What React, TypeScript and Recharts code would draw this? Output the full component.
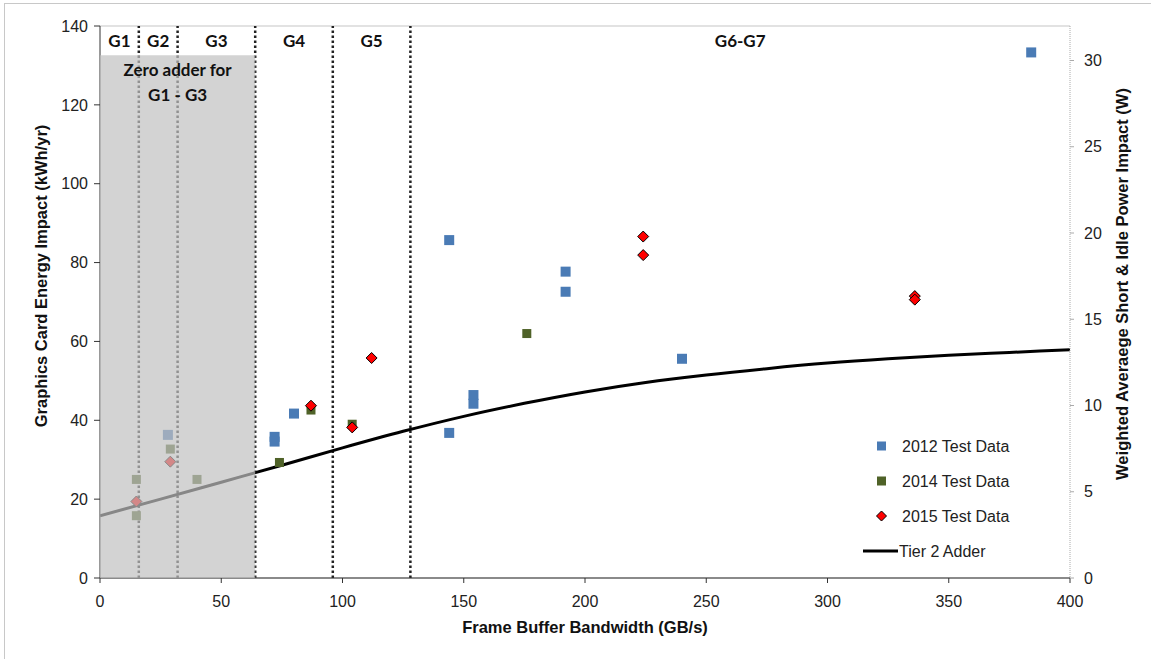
import {
  ComposedChart,
  Scatter,
  Line,
  XAxis,
  YAxis,
  CartesianGrid,
  ReferenceArea,
  ReferenceLine,
  Legend,
} from 'recharts';

// bandwidth (GB/s) / energy (kWh/yr)
const data2012 = [
  { x: 28, y: 36.3 },
  { x: 72, y: 35.8 },
  { x: 72, y: 34.6 },
  { x: 80, y: 41.7 },
  { x: 144, y: 85.7 },
  { x: 144, y: 36.8 },
  { x: 154, y: 46.4 },
  { x: 154, y: 44.2 },
  { x: 192, y: 77.7 },
  { x: 192, y: 72.6 },
  { x: 240, y: 55.6 },
  { x: 384, y: 133.3 },
];

const data2014 = [
  { x: 15, y: 25.0 },
  { x: 15, y: 15.8 },
  { x: 29, y: 32.7 },
  { x: 40, y: 25.0 },
  { x: 74, y: 29.3 },
  { x: 87, y: 42.6 },
  { x: 104, y: 39.0 },
  { x: 176, y: 62.0 },
];

const data2015 = [
  { x: 15, y: 19.4 },
  { x: 29, y: 29.5 },
  { x: 87, y: 43.7 },
  { x: 104, y: 38.2 },
  { x: 112, y: 55.8 },
  { x: 224, y: 86.6 },
  { x: 224, y: 81.9 },
  { x: 336, y: 71.5 },
  { x: 336, y: 70.6 },
];

const tier2Adder = [
  { x: 0, y: 15.8 },
  { x: 25, y: 20.0 },
  { x: 50, y: 24.3 },
  { x: 75, y: 28.6 },
  { x: 100, y: 33.0 },
  { x: 125, y: 37.2 },
  { x: 150, y: 41.0 },
  { x: 175, y: 44.3 },
  { x: 200, y: 47.2 },
  { x: 225, y: 49.6 },
  { x: 250, y: 51.5 },
  { x: 275, y: 53.1 },
  { x: 300, y: 54.5 },
  { x: 325, y: 55.6 },
  { x: 350, y: 56.5 },
  { x: 375, y: 57.2 },
  { x: 400, y: 57.9 },
];

const groups = [
  { name: 'G1', from: 0, to: 16 },
  { name: 'G2', from: 16, to: 32 },
  { name: 'G3', from: 32, to: 64 },
  { name: 'G4', from: 64, to: 96 },
  { name: 'G5', from: 96, to: 128 },
  { name: 'G6-G7', from: 128, to: 400 },
];
const groupBounds = [16, 32, 64, 96, 128];

const xTicks = [0, 50, 100, 150, 200, 250, 300, 350, 400];
const yTicks = [0, 20, 40, 60, 80, 100, 120, 140];
const wTicks = [0, 5, 10, 15, 20, 25, 30];

const BLUE = '#4a7bb5';
const GREEN = '#4f6228';
const RED = '#ff0000';
const ZONE_TOP = 132.6;

const ARIAL = '"Liberation Sans", Arial, sans-serif';
const CALIBRI = 'Lato, "Open Sans", sans-serif';

const square = (color: string, s: number) => (p: any) => (
  <rect x={p.cx - s / 2} y={p.cy - s / 2} width={s} height={s} fill={color} />
);

const diamond = (p: any) => {
  const r = 5.5;
  return (
    <polygon
      points={`${p.cx},${p.cy - r} ${p.cx + r},${p.cy} ${p.cx},${p.cy + r} ${p.cx - r},${p.cy}`}
      fill={RED}
      stroke="#000"
      strokeWidth={1}
    />
  );
};

const LegendBox = () => {
  const rows = [
    { label: '2012 Test Data', kind: 'blue' },
    { label: '2014 Test Data', kind: 'green' },
    { label: '2015 Test Data', kind: 'red' },
    { label: 'Tier 2 Adder', kind: 'line' },
  ];
  return (
    <svg width={220} height={140}>
      {rows.map((r, i) => {
        const cy = 14 + i * 35;
        let mark;
        if (r.kind === 'blue') mark = <rect x={19} y={cy - 4.5} width={9} height={9} fill={BLUE} />;
        else if (r.kind === 'green') mark = <rect x={19} y={cy - 4.5} width={9} height={9} fill={GREEN} />;
        else if (r.kind === 'red')
          mark = (
            <polygon
              points={`23.5,${cy - 5} 28.5,${cy} 23.5,${cy + 5} 18.5,${cy}`}
              fill={RED}
              stroke="#000"
              strokeWidth={1}
            />
          );
        else mark = <line x1={5} x2={40} y1={cy} y2={cy} stroke="#000" strokeWidth={3} />;
        return (
          <g key={r.label}>
            {mark}
            <text
              x={r.kind === 'line' ? 41 : 44}
              y={cy}
              dy="0.36em"
              fontFamily={ARIAL}
              fontSize={16}
              fill="#222"
            >
              {r.label}
            </text>
          </g>
        );
      })}
    </svg>
  );
};

const ZeroAdderLabel = (props: any) => {
  const vb = props.viewBox || {};
  const cx = vb.x + vb.width / 2;
  const top = vb.y;
  return (
    <text textAnchor="middle" fontFamily={CALIBRI} fontWeight="bold" fontSize={17} fill="#111">
      <tspan x={cx} y={top + 21}>Zero adder for</tspan>
      <tspan x={cx} y={top + 46}>G1 - G3</tspan>
    </text>
  );
};

export default function App() {
  return (
    <div style={{ position: 'absolute', left: 0, top: 0, width: 1151, height: 659, background: '#fff' }}>
      <div
        style={{
          position: 'absolute',
          left: 4,
          top: 3,
          width: 1147,
          height: 656,
          borderLeft: '1px solid #c8c8c8',
          borderTop: '1px solid #c8c8c8',
        }}
      />
      <ComposedChart
        width={1151}
        height={659}
        margin={{ top: 26, right: 21, bottom: 51, left: 40 }}
        style={{ position: 'absolute', left: 0, top: 0 }}
      >
        <CartesianGrid vertical={false} stroke="#d9d9d9" strokeWidth={1.5} />
        <XAxis
          type="number"
          dataKey="x"
          domain={[0, 400]}
          ticks={xTicks}
          allowDataOverflow
          height={30}
          stroke="#333"
          tickSize={5}
          tickMargin={13}
          tick={{ fontFamily: ARIAL, fontSize: 16, fill: '#222' }}
          label={{
            value: 'Frame Buffer Bandwidth (GB/s)',
            position: 'insideBottom',
            offset: -25,
            style: { fontFamily: ARIAL, fontSize: 16.5, fontWeight: 'bold', fill: '#111' },
          }}
        />
        <YAxis
          yAxisId="left"
          type="number"
          dataKey="y"
          domain={[0, 140]}
          ticks={yTicks}
          allowDataOverflow
          width={60}
          stroke="#333"
          tickSize={6}
          tickMargin={6}
          tick={{ fontFamily: ARIAL, fontSize: 16, fill: '#222' }}
          label={{
            value: 'Graphics Card Energy Impact (kWh/yr)',
            angle: -90,
            position: 'insideLeft',
            offset: 1,
            dy: -26,
            style: { textAnchor: 'middle', fontFamily: ARIAL, fontSize: 16.5, fontWeight: 'bold', fill: '#111' },
          }}
        />
        <YAxis
          yAxisId="right"
          orientation="right"
          type="number"
          domain={[0, 32]}
          ticks={wTicks}
          allowDataOverflow
          width={60}
          axisLine={{ stroke: '#aaa', strokeDasharray: '1 1' }}
          tickLine={{ stroke: '#aaa' }}
          tickSize={4}
          tickMargin={10}
          tick={{ fontFamily: ARIAL, fontSize: 16, fill: '#222' }}
          label={{
            value: 'Weighted Averaege Short & Idle Power Impact (W)',
            angle: -90,
            position: 'insideRight',
            offset: 8,
            dy: -18,
            style: { textAnchor: 'middle', fontFamily: ARIAL, fontSize: 16.5, fontWeight: 'bold', fill: '#111' },
          }}
        />

        {groupBounds.map((b) => (
          <ReferenceLine
            key={b}
            yAxisId="left"
            x={b}
            stroke="#222"
            strokeWidth={2.5}
            strokeDasharray="2.5 2.5"
          />
        ))}

        {groups.map((g) => (
          <ReferenceArea
            key={g.name}
            yAxisId="left"
            x1={g.from}
            x2={g.to}
            y1={ZONE_TOP}
            y2={140}
            fill="none"
            stroke="none"
            label={{
              value: g.name,
              position: 'center',
              style: { fontFamily: CALIBRI, fontWeight: 'bold', fontSize: 17, fill: '#111' },
            }}
          />
        ))}

        <Line
          yAxisId="left"
          data={tier2Adder}
          dataKey="y"
          type="monotone"
          stroke="#000"
          strokeWidth={3}
          dot={false}
          activeDot={false}
          isAnimationActive={false}
          legendType="line"
          name="Tier 2 Adder"
        />
        <Scatter yAxisId="left" name="2012 Test Data" data={data2012} dataKey="y" shape={square(BLUE, 10)} isAnimationActive={false} />
        <Scatter yAxisId="left" name="2014 Test Data" data={data2014} dataKey="y" shape={square(GREEN, 9)} isAnimationActive={false} />
        <Scatter yAxisId="left" name="2015 Test Data" data={data2015} dataKey="y" shape={diamond} isAnimationActive={false} />

        <ReferenceArea
          yAxisId="left"
          x1={0}
          x2={64}
          y1={0}
          y2={ZONE_TOP}
          fill="#c1c1c1"
          fillOpacity={0.7}
          stroke="none"
          zIndex={1500}
          label={<ZeroAdderLabel />}
        />

        <Legend
          layout="horizontal"
          verticalAlign="middle"
          align="center"
          content={() => <LegendBox />}
          wrapperStyle={{ left: 858, top: 432, width: 220, height: 140 }}
        />
      </ComposedChart>
    </div>
  );
}
